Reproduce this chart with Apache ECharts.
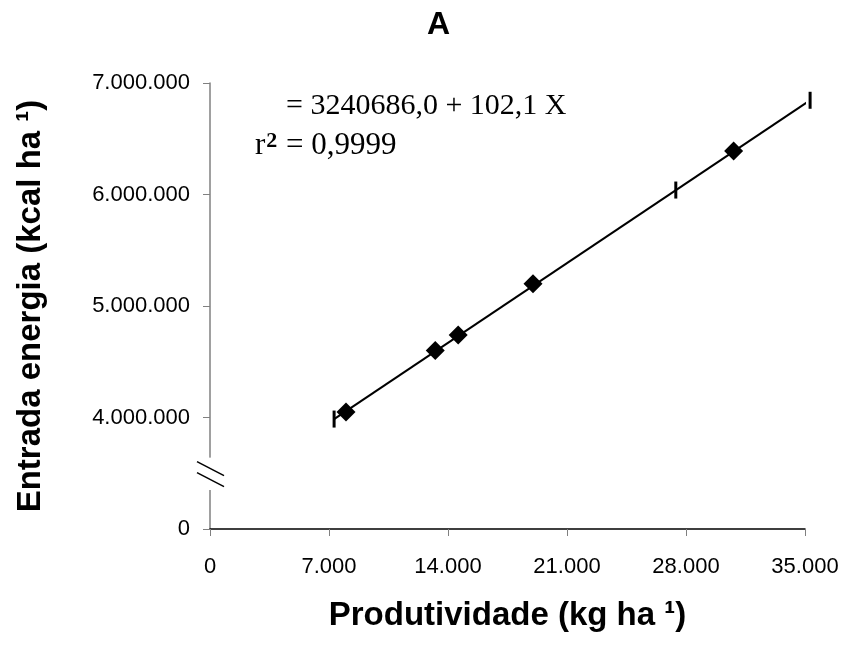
<!DOCTYPE html>
<html>
<head>
<meta charset="utf-8">
<script src="https://cdn.jsdelivr.net/npm/echarts@6/dist/echarts.min.js"></script>
<style>
  html, body { margin: 0; padding: 0; background: #fff; }
  #chart { width: 853px; height: 645px; }
</style>
</head>
<body>
<div id="chart"></div>
<script>
'use strict'
// observed points: productivity (kg/ha) vs energy input (kcal/ha)
var prodValues = [8000, 13250, 14600, 19000, 30800];
var energyValues = [4050000, 4600000, 4740000, 5200000, 6390000];

// fitted line (ends and the small mark on it)
var fitX = [7300, 35300];
var fitY = [3986000, 6845000];
var fitMarksX = [7300, 27400, 35300];
var fitMarksY = [3986000, 6040000, 6845000];

// y axis is broken: the bottom tick stands for 0
var yMin = 3000000, yMax = 7000000, yStep = 1000000;
var xTicks = [0, 7000, 14000, 21000, 28000, 35000];
var breakLow = 3350000, breakHigh = 3640000;

var eqText = '= 3240686,0 + 102,1 X';
var r2Text = '{t|r}{s|2}{t| = 0,9999}';

function fmtThousands(v) {
    return String(v).replace(/\B(?=(\d{3})+(?!\d))/g, '.');
}

var chart = echarts.init(document.getElementById('chart'));

var option = {
    animation: false,
    backgroundColor: '#fff',
    title: {
        text: 'A',
        left: 422,
        top: 4,
        textStyle: {
            fontFamily: 'Liberation Sans',
            fontWeight: 'bold',
            fontSize: 32,
            color: '#000'
        }
    },
    grid: {
        left: 210,
        right: 48,
        top: 83,
        bottom: 116
    },
    xAxis: {
        type: 'value',
        min: xTicks[0],
        max: xTicks[xTicks.length - 1],
        interval: 7000,
        name: 'Produtividade (kg ha \u00b9)',
        nameLocation: 'middle',
        nameGap: 70,
        nameTextStyle: {
            fontFamily: 'Liberation Sans',
            fontWeight: 'bold',
            fontSize: 33,
            color: '#000'
        },
        axisLine: { lineStyle: { color: '#000', width: 1.5 } },
        axisTick: { length: 7, lineStyle: { color: '#808080' } },
        axisLabel: {
            margin: 27,
            fontFamily: 'Liberation Sans',
            fontSize: 22,
            color: '#000',
            formatter: function (v) { return fmtThousands(v); }
        },
        splitLine: { show: false }
    },
    yAxis: {
        type: 'value',
        min: yMin,
        max: yMax,
        interval: yStep,
        name: 'Entrada energia (kcal ha \u00b9)',
        nameLocation: 'middle',
        nameGap: 163,
        nameTextStyle: {
            fontFamily: 'Liberation Sans',
            fontWeight: 'bold',
            fontSize: 33,
            color: '#000'
        },
        axisLine: { lineStyle: { color: '#808080', width: 1.5 } },
        axisTick: { length: 7, lineStyle: { color: '#808080' } },
        axisLabel: {
            margin: 20,
            fontFamily: 'Liberation Sans',
            fontSize: 22,
            color: '#000',
            formatter: function (v) {
                return v === yMin ? '0' : fmtThousands(v);
            }
        },
        splitLine: { show: false }
    },
    series: [
        {
            name: 'fit',
            type: 'line',
            clip: false,
            data: fitX.map(function (x, i) { return [x, fitY[i]]; }),
            showSymbol: false,
            lineStyle: { color: '#000', width: 2 },
            z: 2
        },
        {
            name: 'fitMarks',
            type: 'scatter',
            clip: false,
            data: fitMarksX.map(function (x, i) { return [x, fitMarksY[i]]; }),
            symbol: 'rect',
            symbolSize: [3, 17],
            itemStyle: { color: '#000', opacity: 1 },
            z: 3
        },
        {
            name: 'obs',
            type: 'scatter',
            clip: false,
            data: prodValues.map(function (x, i) { return [x, energyValues[i]]; }),
            symbol: 'diamond',
            symbolSize: 19,
            itemStyle: { color: '#000', opacity: 1 },
            z: 4
        }
    ]
};

chart.setOption(option);

// axis break and the regression text
var lo = chart.convertToPixel({ gridIndex: 0 }, [0, breakLow]);
var hi = chart.convertToPixel({ gridIndex: 0 }, [0, breakHigh]);
var ax = lo[0];
chart.setOption({
    graphic: [
        {
            type: 'rect',
            shape: { x: ax - 4, y: hi[1], width: 8, height: lo[1] - hi[1] },
            style: { fill: '#fff' },
            z: 100
        },
        {
            type: 'line',
            shape: { x1: ax - 13, y1: hi[1] + 4, x2: ax + 14, y2: hi[1] + 18 },
            style: { stroke: '#000', lineWidth: 1.5 },
            z: 101
        },
        {
            type: 'line',
            shape: { x1: ax - 13, y1: hi[1] + 15, x2: ax + 14, y2: hi[1] + 29 },
            style: { stroke: '#000', lineWidth: 1.5 },
            z: 101
        },
        {
            type: 'text',
            left: 286,
            top: 91,
            style: {
                text: eqText,
                font: '30px "Liberation Serif"',
                fill: '#000'
            },
            z: 101
        },
        {
            type: 'text',
            left: 255,
            top: 130,
            style: {
                text: r2Text,
                fill: '#000',
                rich: {
                    t: { fontFamily: 'Liberation Serif', fontSize: 31, color: '#000' },
                    s: { fontFamily: 'Liberation Serif', fontSize: 22, fontWeight: 'bold', color: '#000', verticalAlign: 'top', padding: [0, 1, 9, 1] }
                }
            },
            z: 101
        }
    ]
});
</script>
</body>
</html>
